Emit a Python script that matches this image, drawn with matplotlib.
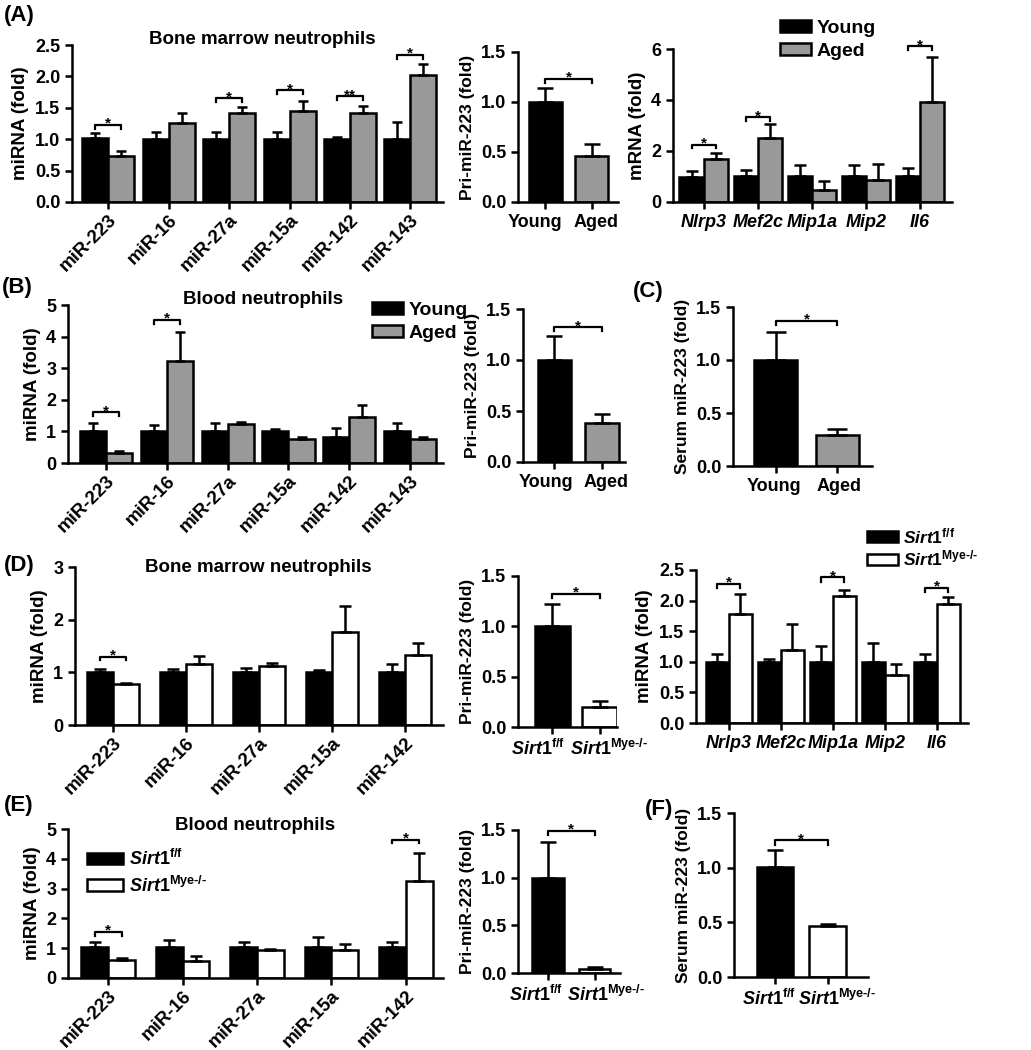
import matplotlib
matplotlib.use('Agg')
import matplotlib.pyplot as plt
import matplotlib.transforms as mtrans
from matplotlib.patches import Patch
import numpy as np

plt.rcParams['font.family'] = ['Liberation Sans', 'DejaVu Sans']
plt.rcParams['font.weight'] = 'bold'
plt.rcParams['axes.labelweight'] = 'bold'
plt.rcParams['mathtext.fontset'] = 'custom'
plt.rcParams['mathtext.rm'] = 'Liberation Sans:bold'
plt.rcParams['mathtext.it'] = 'Liberation Sans:bold:italic'
plt.rcParams['mathtext.bf'] = 'Liberation Sans:bold'

# ---- data ----
mirs6 = ['miR-223', 'miR-16', 'miR-27a', 'miR-15a', 'miR-142', 'miR-143']
mirs5 = mirs6[:5]
genes_a = ['Nlrp3', 'Mef2c', 'Mip1a', 'Mip2', 'Il6']
genes_d = ['Nrlp3', 'Mef2c', 'Mip1a', 'Mip2', 'Il6']
age_groups = ['Young', 'Aged']
sirt_groups = [r'$\mathit{Sirt1}^{\mathrm{f/f}}$',
               r'$\mathit{Sirt1}^{\mathrm{Mye\text{-}/\text{-}}}$']

# (A) bone marrow neutrophils, miRNA
a_young = [1.02, 1.0, 1.0, 1.0, 1.01, 1.0]
a_young_sem = [0.08, 0.12, 0.12, 0.11, 0.03, 0.27]
a_aged = [0.74, 1.26, 1.41, 1.45, 1.42, 2.02]
a_aged_sem = [0.08, 0.15, 0.10, 0.16, 0.11, 0.18]
a_sig = [(0, '*', 1.23), (2, '*', 1.65), (3, '*', 1.78), (4, '**', 1.68), (5, '*', 2.34)]
# (A) pri-miR-223
a_pri = [1.0, 0.455]
a_pri_sem = [0.14, 0.12]
a_pri_sig = 1.23
# (A) mRNA
a_mrna_young = [0.98, 1.0, 1.0, 1.03, 1.0]
a_mrna_young_sem = [0.22, 0.24, 0.46, 0.43, 0.33]
a_mrna_aged = [1.70, 2.51, 0.48, 0.85, 3.92]
a_mrna_aged_sem = [0.22, 0.56, 0.33, 0.64, 1.75]
a_mrna_sig = [(0, '*', 2.25), (1, '*', 3.32), (4, '*', 6.1)]

# (B) blood neutrophils
b_young = [1.0, 1.0, 1.0, 1.0, 0.81, 1.0]
b_young_sem = [0.26, 0.21, 0.26, 0.07, 0.30, 0.26]
b_aged = [0.32, 3.24, 1.24, 0.77, 1.47, 0.76]
b_aged_sem = [0.05, 0.89, 0.05, 0.06, 0.37, 0.06]
b_sig = [(0, '*', 1.6), (1, '*', 4.53)]
b_pri = [1.0, 0.38]
b_pri_sem = [0.24, 0.09]
b_pri_sig = 1.32
# (C) serum
c_serum = [1.0, 0.29]
c_serum_sem = [0.26, 0.06]
c_serum_sig = 1.37

# (D) Sirt1 bone marrow
d_ff = [1.01, 1.01, 1.0, 1.01, 1.01]
d_ff_sem = [0.06, 0.06, 0.09, 0.04, 0.15]
d_ko = [0.78, 1.16, 1.12, 1.76, 1.33]
d_ko_sem = [0.02, 0.15, 0.05, 0.50, 0.22]
d_sig = [(0, '*', 1.30)]
d_pri = [1.0, 0.2]
d_pri_sem = [0.22, 0.06]
d_pri_sig = 1.32
d_mrna_ff = [1.0, 1.0, 1.0, 1.0, 1.0]
d_mrna_ff_sem = [0.12, 0.04, 0.26, 0.30, 0.12]
d_mrna_ko = [1.78, 1.20, 2.08, 0.78, 1.94]
d_mrna_ko_sem = [0.32, 0.41, 0.10, 0.19, 0.12]
d_mrna_sig = [(0, '*', 2.27), (2, '*', 2.38), (4, '*', 2.21)]

# (E) Sirt1 blood
e_ff = [1.03, 1.03, 1.03, 1.03, 1.03]
e_ff_sem = [0.17, 0.26, 0.17, 0.33, 0.17]
e_ko = [0.59, 0.56, 0.95, 0.95, 3.24]
e_ko_sem = [0.08, 0.19, 0.03, 0.19, 0.95]
e_sig = [(0, '*', 1.54), (4, '*', 4.64)]
e_pri = [1.0, 0.04]
e_pri_sem = [0.37, 0.02]
e_pri_sig = 1.49
# (F) serum
f_serum = [1.01, 0.465]
f_serum_sem = [0.15, 0.02]
f_serum_sig = 1.25

GRAY = '#999999'
W, H = 1031, 1050
fig = plt.figure(figsize=(W / 100, H / 100), dpi=100)
LW = 1.8


def add_ax(x0, x1, ytop, ybot):
    ax = fig.add_axes([x0 / W, 1 - ybot / H, (x1 - x0) / W, (ybot - ytop) / H])
    for s in ['top', 'right']:
        ax.spines[s].set_visible(False)
    for s in ['left', 'bottom']:
        ax.spines[s].set_linewidth(LW)
    ax.tick_params(width=LW, length=5, labelsize=13)
    return ax


def bracket(ax, x1, x2, y, txt, drop):
    ax.plot([x1, x1, x2, x2], [y - drop, y, y, y - drop], color='k', lw=1.6, clip_on=False)
    ax.annotate(txt, ((x1 + x2) / 2, y), xytext=(0, -2), textcoords='offset points',
                ha='center', va='baseline', fontsize=11, annotation_clip=False)


def yaxis(ax, ymax, ticks, fmt, label, lsize=13.5):
    ax.set_ylim(0, ymax)
    ax.set_yticks(ticks)
    ax.set_yticklabels([fmt.format(t) for t in ticks])
    ax.set_ylabel(label, fontsize=lsize)


def grouped(ax, cats, v1, e1, v2, e2, c2, width, xlim, sig, drop, cap, italic=False, rot=45):
    x = np.arange(len(cats))
    ax.bar(x - width / 2, v1, width, color='k', edgecolor='k', lw=LW)
    ax.bar(x + width / 2, v2, width, color=c2, edgecolor='k', lw=LW)
    ax.errorbar(x - width / 2, v1, yerr=[np.zeros(len(x)), e1], fmt='none', ecolor='k',
                elinewidth=LW, capsize=cap, capthick=LW)
    ax.errorbar(x + width / 2, v2, yerr=[np.zeros(len(x)), e2], fmt='none', ecolor='k',
                elinewidth=LW, capsize=cap, capthick=LW)
    for i, t, y in sig:
        bracket(ax, i - width / 2, i + width / 2, y, t, drop)
    ax.set_xlim(*xlim)
    ax.set_xticks(x)
    if rot:
        ax.set_xticklabels(cats, rotation=rot, ha='right', rotation_mode='anchor', fontsize=13.5)
        ax.tick_params(axis='x', pad=2)
    else:
        ax.set_xticklabels(cats, style='italic' if italic else 'normal', fontsize=13)


def pair(ax, labels, v, e, c2, width, xlim, sig, drop, cap, shifts=(-9, 4)):
    x = np.arange(2)
    ax.bar(x, v, width, color=['k', c2], edgecolor='k', lw=LW)
    ax.errorbar(x, v, yerr=[np.zeros(2), e], fmt='none', ecolor='k',
                elinewidth=LW, capsize=cap, capthick=LW)
    bracket(ax, 0, 1, sig, '*', drop)
    ax.set_xlim(*xlim)
    ax.set_xticks(x)
    ax.set_xticklabels(labels, fontsize=13)
    # labels are wider than the bar spacing: nudge them apart as in the original
    for lab, dx in zip(ax.get_xticklabels(), shifts):
        lab.set_transform(lab.get_transform() + mtrans.ScaledTranslation(dx / 100, 0, fig.dpi_scale_trans))


def panel_label(x, y, s):
    fig.text(x / W, 1 - y / H, s, fontsize=16, fontweight='bold', va='center', ha='left')


def title(x, y, s):
    fig.text(x / W, 1 - y / H, s, fontsize=13.5, fontweight='bold', va='center', ha='center')


def legend(labels, c2, x, y, fs, hl, ls):
    fig.legend([Patch(facecolor='k', edgecolor='k', lw=LW), Patch(facecolor=c2, edgecolor='k', lw=LW)],
               labels, loc='upper left', bbox_to_anchor=(x / W, 1 - y / H), frameon=False,
               fontsize=fs, handlelength=hl, handleheight=0.6, labelspacing=ls, handletextpad=0.3,
               borderaxespad=0, borderpad=0)


# ---- (A) ----
ax = add_ax(72, 443, 45, 202)
grouped(ax, mirs6, a_young, a_young_sem, a_aged, a_aged_sem, GRAY, 0.43, (-0.6, 5.54), a_sig, 0.06, 3.5)
yaxis(ax, 2.5, [0, 0.5, 1.0, 1.5, 2.0, 2.5], '{:.1f}', 'miRNA (fold)')
title(262, 40, 'Bone marrow neutrophils')
panel_label(4, 16, '(A)')

ax = add_ax(518, 618, 52, 202)
pair(ax, age_groups, a_pri, a_pri_sem, GRAY, 0.71, (-0.59, 1.56), a_pri_sig, 0.04, 5.5, (-10, 4))
yaxis(ax, 1.5, [0, 0.5, 1.0, 1.5], '{:.1f}', 'Pri-miR-223 (fold)', 12.5)

ax = add_ax(673, 952, 49, 202)
grouped(ax, genes_a, a_mrna_young, a_mrna_young_sem, a_mrna_aged, a_mrna_aged_sem, GRAY, 0.45,
        (-0.57, 4.59), a_mrna_sig, 0.15, 4, italic=True, rot=0)
yaxis(ax, 6, [0, 2, 4, 6], '{:.0f}', 'mRNA (fold)')
legend(age_groups, GRAY, 780, 20, 14, 1.6, 0.3)

# ---- (B) ----
ax = add_ax(68, 443, 305, 463)
grouped(ax, mirs6, b_young, b_young_sem, b_aged, b_aged_sem, GRAY, 0.43, (-0.625, 5.54), b_sig, 0.12, 3.5)
yaxis(ax, 5, [0, 1, 2, 3, 4, 5], '{:.0f}', 'miRNA (fold)')
title(263, 300, 'Blood neutrophils')
panel_label(2, 287, '(B)')
legend(age_groups, GRAY, 372, 302, 14, 1.6, 0.3)

ax = add_ax(523, 625, 309, 462)
pair(ax, age_groups, b_pri, b_pri_sem, GRAY, 0.7, (-0.66, 1.48), b_pri_sig, 0.04, 5.5, (-8, 4))
yaxis(ax, 1.5, [0, 0.5, 1.0, 1.5], '{:.1f}', 'Pri-miR-223 (fold)', 12.5)

# ---- (C) ----
ax = add_ax(733, 872, 307, 466)
pair(ax, age_groups, c_serum, c_serum_sem, GRAY, 0.69, (-0.69, 1.56), c_serum_sig, 0.04, 7, (-2, 2))
yaxis(ax, 1.5, [0, 0.5, 1.0, 1.5], '{:.1f}', 'Serum miR-223 (fold)', 12.5)
panel_label(633, 291, '(C)')

# ---- (D) ----
ax = add_ax(75, 443, 567, 725)
grouped(ax, mirs5, d_ff, d_ff_sem, d_ko, d_ko_sem, 'white', 0.36, (-0.52, 4.52), d_sig, 0.07, 4)
yaxis(ax, 3, [0, 1, 2, 3], '{:.0f}', 'miRNA (fold)')
title(258, 567, 'Bone marrow neutrophils')
panel_label(4, 565, '(D)')

ax = add_ax(518, 617, 576, 727)
pair(ax, sirt_groups, d_pri, d_pri_sem, 'white', 0.74, (-0.73, 1.37), d_pri_sig, 0.04, 5.5, (-14, 10))
yaxis(ax, 1.5, [0, 0.5, 1.0, 1.5], '{:.1f}', 'Pri-miR-223 (fold)', 12.5)

ax = add_ax(696, 968, 570, 723)
grouped(ax, genes_d, d_mrna_ff, d_mrna_ff_sem, d_mrna_ko, d_mrna_ko_sem, 'white', 0.44,
        (-0.63, 4.6), d_mrna_sig, 0.07, 4, italic=True, rot=0)
yaxis(ax, 2.5, [0, 0.5, 1.0, 1.5, 2.0, 2.5], '{:.1f}', 'miRNA (fold)')
legend(sirt_groups, 'white', 867, 526, 12.5, 1.8, 0.15)

# ---- (E) ----
ax = add_ax(68, 443, 829, 978)
grouped(ax, mirs5, e_ff, e_ff_sem, e_ko, e_ko_sem, 'white', 0.36, (-0.54, 4.5), e_sig, 0.12, 4)
yaxis(ax, 5, [0, 1, 2, 3, 4, 5], '{:.0f}', 'miRNA (fold)')
title(255, 825, 'Blood neutrophils')
panel_label(4, 806, '(E)')
legend(sirt_groups, 'white', 87, 849, 13, 2.0, 0.35)

ax = add_ax(518, 620, 830, 973)
pair(ax, sirt_groups, e_pri, e_pri_sem, 'white', 0.69, (-0.65, 1.55), e_pri_sig, 0.04, 5.5, (-12, 12))
yaxis(ax, 1.5, [0, 0.5, 1.0, 1.5], '{:.1f}', 'Pri-miR-223 (fold)', 12.5)

# ---- (F) ----
ax = add_ax(734, 868, 813, 977)
pair(ax, sirt_groups, f_serum, f_serum_sem, 'white', 0.69, (-0.78, 1.77), f_serum_sig, 0.04, 6, (-6, 10))
yaxis(ax, 1.5, [0, 0.5, 1.0, 1.5], '{:.1f}', 'Serum miR-223 (fold)', 12.5)
panel_label(645, 809, '(F)')

fig.savefig('out.png', dpi=100)
